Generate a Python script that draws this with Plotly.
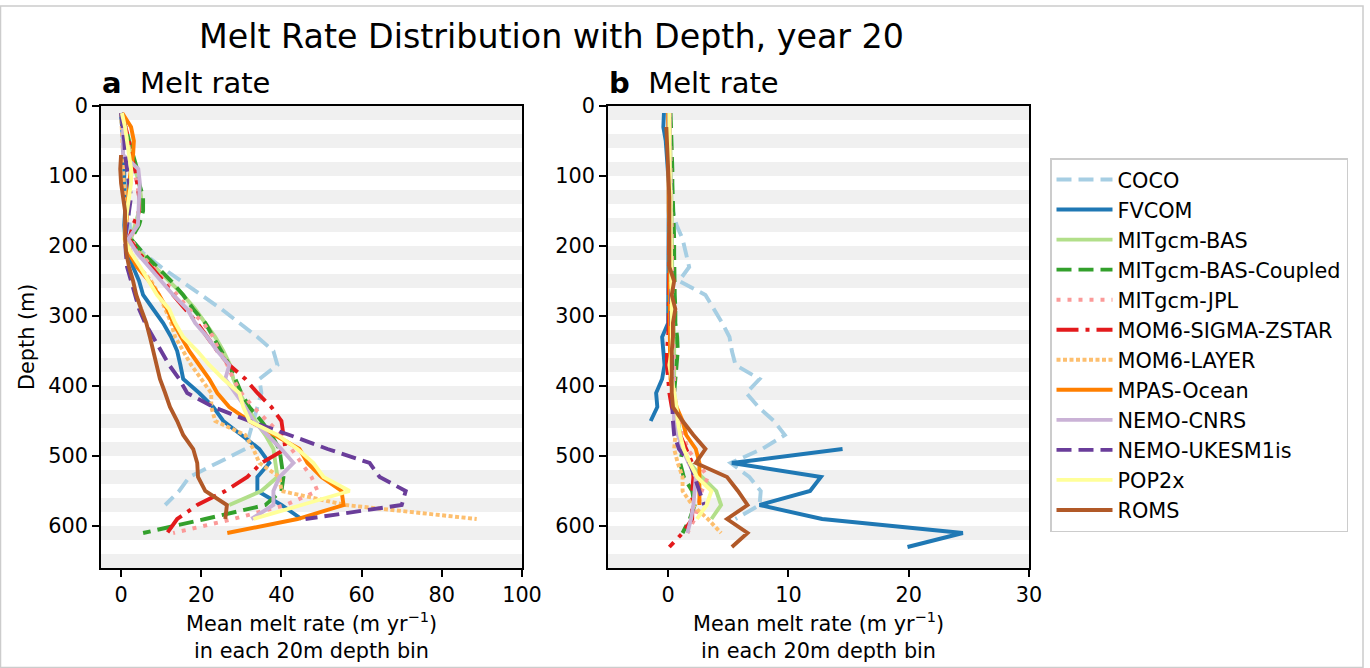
import plotly.graph_objects as go

# depth-bin centres (m)
DEPTH = [10 + 20 * i for i in range(32)]
N = None

MODELS = ["COCO", "FVCOM", "MITgcm-BAS", "MITgcm-BAS-Coupled", "MITgcm-JPL",
          "MOM6-SIGMA-ZSTAR", "MOM6-LAYER", "MPAS-Ocean", "NEMO-CNRS",
          "NEMO-UKESM1is", "POP2x", "ROMS"]

# panel a: mean melt rate (m/yr) per 20 m depth bin
coco_a = [0, 0.3, 0.5, 0.8, 1.0, 1.2, 1.5, 1.8, 2.0, 2.5, 5.5, 10, 15, 20, 25, 29.5, 34, 38, 39, 34.5, 35, 34, 33, 32, 31, 24, 17, 14.5, 11, N, N, N]
fvcom_a = [0, 0.3, 0.5, 0.5, 0.8, 0.8, 1.0, 1.0, 0.8, 1.0, 2.0, 3.0, 4.5, 5.5, 8, 10.5, 12.5, 14, 14.8, 15.5, 19.5, 23, 25.5, 30, 34.5, 37, 34, 34, 40, 45, N, N]
bas_a = [0.2, 0.8, 1.5, 2.5, 3.5, 4.5, 5, 4.5, 3.5, 2.5, 5, 8.5, 12, 15.5, 18.5, 21, 23.5, 25.5, 27.2, 28, 29.5, 31.5, 33.5, 36, 38, 38.5, 39, 35, 27, N, N, N]
coupled_a = [0.2, 1, 2, 3, 4, 4.5, 5.5, 5.5, 4.5, 2.5, 5.5, 9, 12.5, 15.5, 18, 21, 23, 25, 27, 28.5, 30, 32, 35, 37.5, 39.5, 40, 40.5, 40, 36, 21, 5.5, N]
jpl_a = [0.2, 0.8, 1.5, 2.5, 3, 4, 4.5, 4.5, 3.5, 2.5, 4.5, 8, 11, 14, 17, 20.5, 23, 24.5, 26.5, 28, 30, 33, 36.5, 40, 42.5, 45, 47.5, 49, 41, 28, 13, N]
sigma_a = [0.2, 1, 2, 2.5, 3.5, 4, 4.5, 4.5, 3, 2, 4.5, 7.5, 10.5, 13, 16, 19, 21.5, 24, 27, 31, 34, 37.5, 40, 40.5, 41, 35, 31.5, 26, 19, 14, 11.5, N]
layer_a = [0, 0.2, 0.3, 0.5, 0.5, 0.8, 1, 1.2, 1.2, 1.2, 2.5, 4.5, 7.5, 9.5, 11, 12.5, 13.5, 15.5, 17.5, 20, 22.5, 22.5, 23.5, 31, 33, 34.5, 39.5, 40, 56, 88.7, N, N]
mpas_a = [0.3, 2.5, 3.2, 3, 2.5, 2, 1.8, 1.5, 1.2, 1, 2, 4, 7, 9.5, 11.5, 13, 15, 17, 19.5, 22, 24, 27, 32, 38.5, 44.5, 46.5, 50, 55, 55.5, 44, 26.5, N]
cnrs_a = [0.2, 0.5, 0.5, 0.5, 4.3, 4.7, 4.5, 4.3, 4.2, 1.8, 4, 7, 10, 13, 16.5, 18.5, 21.5, 24, 27, 26, 28.5, 31, 33, 36.5, 40, 43, 39.5, 38, 38, 32.5, N, N]
ukesm_a = [0, 0.5, 0.8, 1.0, 1.5, 2.0, 2.5, 2.0, 1.5, 1.0, 1.2, 1.5, 2.5, 3.5, 4.5, 6, 8, 10, 12, 14.5, 16.5, 23, 32, 42, 51.5, 62, 64.5, 71, 70, 46, N, N]
pop_a = [0.2, 1, 1.5, 2, 2.5, 2.5, 2, 1.5, 1, 0.8, 2.5, 4.8, 7, 9, 12, 13.5, 15.5, 19, 22, 25.5, 29.5, 30.5, 32, 39, 44, 48, 50.5, 57, 45, 33, N, N]
roms_a = [N, N, N, 0, -0.2, 0, 0.5, 1, 1, 1, 1.3, 2, 3, 3.8, 5, 6.3, 7.2, 8, 8.8, 9.7, 11, 12.2, 14, 15.5, 18, 19, 19.2, 21, 26.4, 26, N, N]

# panel b: mean melt rate (m/yr) per 20 m depth bin
coco_b = [0, 0, 0, 0, 0, 0.05, 0.1, 0.4, 0.7, 1.2, 1.5, 1.75, 0.9, 3.1, 3.8, 4.5, 5.1, 5.3, 5.6, 7.6, 6.5, 7.5, 8.8, 9.7, 7.8, 5.2, 6.75, 7.7, 7.6, 5.6, N, N]
fvcom_b = [-0.35, -0.4, -0.2, -0.1, 0, 0.05, 0.05, 0.05, 0.05, 0.05, 0.05, 0.05, 0.05, 0.05, 0.05, 0, -0.5, -0.4, -0.3, -0.5, -1.0, -0.9, -1.45, N, 14.5, 5.3, 12.7, 11.8, 7.6, 12.8, 24.5, 19.9]
bas_b = [0.1, 0.15, 0.2, 0.2, 0.2, 0.25, 0.3, 0.3, 0.3, 0.3, 0.3, 0.35, 0.35, 0.4, 0.4, 0.45, 0.5, 0.5, 0.5, 0.5, 0.5, 0.6, 0.7, 0.9, 1.2, 1.8, 2.8, 4.0, 4.4, 3.6, N, N]
coupled_b = [0.2, 0.25, 0.3, 0.3, 0.35, 0.35, 0.4, 0.4, 0.45, 0.5, 0.5, 0.5, 0.5, 0.55, 0.6, 0.6, 0.75, 0.8, 0.7, 0.6, 0.5, 0.6, 0.8, 1.0, 1.2, 1.0, 1.3, 2.0, 2.2, 1.8, 1.2, N]
jpl_b = [0.1, 0.15, 0.2, 0.2, 0.2, 0.2, 0.25, 0.25, 0.3, 0.3, 0.3, 0.3, 0.35, 0.35, 0.4, 0.4, 0.45, 0.45, 0.5, 0.5, 0.5, 0.7, 1.0, 1.3, 1.6, 2.5, 3.3, 2.8, 2.5, 2.2, 1.6, N]
sigma_b = [0.1, 0.1, 0.1, 0.1, 0.1, 0.1, 0.1, 0.1, 0.1, 0.1, 0.1, 0.1, 0.1, 0.1, 0.1, 0.05, 0, -0.1, -0.1, 0, 0.1, 0.3, 0.7, 1.0, 1.5, 2.0, 2.1, 2.0, 2.0, 2.0, 1.2, 0.1]
layer_b = [0.1, 0.1, 0.1, 0.15, 0.15, 0.15, 0.2, 0.2, 0.2, 0.2, 0.2, 0.2, 0.25, 0.25, 0.25, 0.3, 0.3, 0.3, 0.3, 0.35, 0.4, 0.45, 0.5, 0.6, 0.5, 0.8, 1.2, 1.2, 2.0, 3.3, 4.4, N]
mpas_b = [0, 0, 0.05, 0.05, 0.05, 0.05, 0.05, 0.05, 0.1, 0.1, 0.1, 0.1, 0.1, 0.1, 0.15, 0.15, 0.15, 0.15, 0.2, 0.2, 0.4, 0.7, 1.2, 1.5, 2.3, 2.6, 2.6, 2.6, 2.6, N, N, N]
cnrs_b = [0.1, 0.1, 0.15, 0.15, 0.15, 0.2, 0.2, 0.2, 0.2, 0.25, 0.25, 0.25, 0.3, 0.3, 0.3, 0.3, 0.35, 0.35, 0.35, 0.4, 0.4, 0.45, 0.5, 0.8, 1.2, 1.7, 2.3, 2.2, 2.1, 1.9, 1.6, N]
ukesm_b = [0.1, 0.1, 0.1, 0.1, 0.15, 0.15, 0.15, 0.15, 0.2, 0.2, 0.2, 0.2, 0.2, 0.25, 0.25, 0.25, 0.3, 0.3, 0.3, 0.3, 0.3, 0.35, 0.4, 0.5, 0.9, 1.8, 2.2, 2.6, 3.0, N, N, N]
pop_b = [0.1, 0.1, 0.1, 0.15, 0.15, 0.15, 0.2, 0.2, 0.2, 0.2, 0.2, 0.25, 0.25, 0.3, 0.3, 0.3, 0.3, 0.3, 0.1, 0.3, 0.5, 0.7, 0.8, 1.0, 1.3, 1.8, 2.4, 3.6, 3.2, 2.4, N, N]
roms_b = [N, -0.15, -0.1, 0, 0, 0.05, 0.1, 0.1, 0.1, 0.1, 0.1, 0.1, 0.5, 0.3, 0.6, 0.4, 0.4, 0.3, 0.3, 0.3, 0.3, 0.4, 1.2, 2.1, 3.1, 2.3, 4.9, 5.8, 6.6, 4.9, 6.6, 5.3]

PANEL_A = [coco_a, fvcom_a, bas_a, coupled_a, jpl_a, sigma_a, layer_a, mpas_a, cnrs_a, ukesm_a, pop_a, roms_a]
PANEL_B = [coco_b, fvcom_b, bas_b, coupled_b, jpl_b, sigma_b, layer_b, mpas_b, cnrs_b, ukesm_b, pop_b, roms_b]

COLORS = ["#a6cee3", "#1f78b4", "#b2df8a", "#33a02c", "#fb9a99", "#e31a1c",
          "#fdbf6f", "#ff7f00", "#cab2d6", "#6a3d9a", "#ffff99", "#b15928"]
DASHES = ["15px,7px", "solid", "solid", "15px,7px", "4px,7px", "22px,7px,4px,7px",
          "4px,2.5px", "solid", "solid", "15px,7px", "solid", "solid"]

W, H = 1370, 668
FONT = "DejaVu Sans, Arial, sans-serif"


def fx(x):
    return x / W


def fy(y):
    return 1 - y / H


fig = go.Figure()

for k, name in enumerate(MODELS):
    for vals, xa, ya, show in ((PANEL_A[k], "x", "y", True), (PANEL_B[k], "x2", "y2", False)):
        fig.add_trace(go.Scatter(
            x=vals, y=DEPTH, mode="lines", name=name, legendgroup=name,
            showlegend=show, xaxis=xa, yaxis=ya,
            line=dict(color=COLORS[k], width=3.9, dash=DASHES[k]),
            hoverinfo="skip"))

# alternating shaded 20 m depth bins
shapes = []
for axx, axy in (("x domain", "y"), ("x2 domain", "y2")):
    for d0 in range(0, 660, 40):
        shapes.append(dict(type="rect", xref=axx, yref=axy, x0=0, x1=1, y0=d0, y1=d0 + 20,
                           fillcolor="#f0f0f0", line=dict(width=0), layer="below"))
# thin frame round the figure
shapes.append(dict(type="rect", xref="paper", yref="paper", x0=fx(0.5), x1=fx(1363),
                   y0=fy(667.5), y1=fy(6), line=dict(color="#cccccc", width=1.5)))

axis_common = dict(showline=True, mirror=True, linecolor="black", linewidth=1.7,
                   ticks="outside", ticklen=7, tickwidth=1.7, tickcolor="black",
                   showgrid=False, zeroline=False, automargin=False,
                   tickfont=dict(family=FONT, size=20.8, color="black"))
ydom = [fy(568), fy(106)]

fig.update_layout(
    width=W, height=H, margin=dict(l=0, r=0, t=0, b=0, autoexpand=False),
    paper_bgcolor="white", plot_bgcolor="white",
    font=dict(family=FONT, size=20.8, color="black"),
    xaxis=dict(domain=[fx(101), fx(522)], range=[-5, 100], tickvals=[0, 20, 40, 60, 80, 100], anchor="y", **axis_common),
    yaxis=dict(domain=ydom, range=[660, 0], tickvals=[0, 100, 200, 300, 400, 500, 600], anchor="x", **axis_common),
    xaxis2=dict(domain=[fx(608), fx(1029)], range=[-5, 30], tickvals=[0, 10, 20, 30], anchor="y2", **axis_common),
    yaxis2=dict(domain=ydom, range=[660, 0], tickvals=[0, 100, 200, 300, 400, 500, 600], anchor="x2", **axis_common),
    shapes=shapes,
    legend=dict(x=fx(1050), y=fy(158), xanchor="left", yanchor="top",
                bgcolor="white", bordercolor="#cccccc", borderwidth=1.5,
                font=dict(family=FONT, size=20.8, color="black"),
                itemwidth=56, tracegroupgap=0),
    showlegend=True,
)

ann = [
    dict(text="Melt Rate Distribution with Depth, year 20", x=fx(551), y=fy(37),
         font=dict(size=33.3)),
    dict(text="<b>a</b>\u00a0\u00a0Melt rate", x=fx(100), y=fy(83), xanchor="left",
         font=dict(size=29)),
    dict(text="<b>b</b>\u00a0\u00a0Melt rate", x=fx(607), y=fy(83), xanchor="left",
         font=dict(size=29)),
    dict(text="Mean melt rate (m yr<sup>\u22121</sup>)<br>in each 20m depth bin",
         x=fx(311.5), y=fy(635), font=dict(size=20.8)),
    dict(text="Mean melt rate (m yr<sup>\u22121</sup>)<br>in each 20m depth bin",
         x=fx(818.5), y=fy(635), font=dict(size=20.8)),
    dict(text="Depth (m)", x=fx(27), y=fy(337), textangle=-90, font=dict(size=20.8)),
]
for a in ann:
    a.setdefault("xanchor", "center")
    a.update(xref="paper", yref="paper", yanchor="middle", showarrow=False)
    a["font"] = dict(family=FONT, color="black", size=a["font"]["size"])
fig.update_layout(annotations=ann)

fig.write_html("out.html")
